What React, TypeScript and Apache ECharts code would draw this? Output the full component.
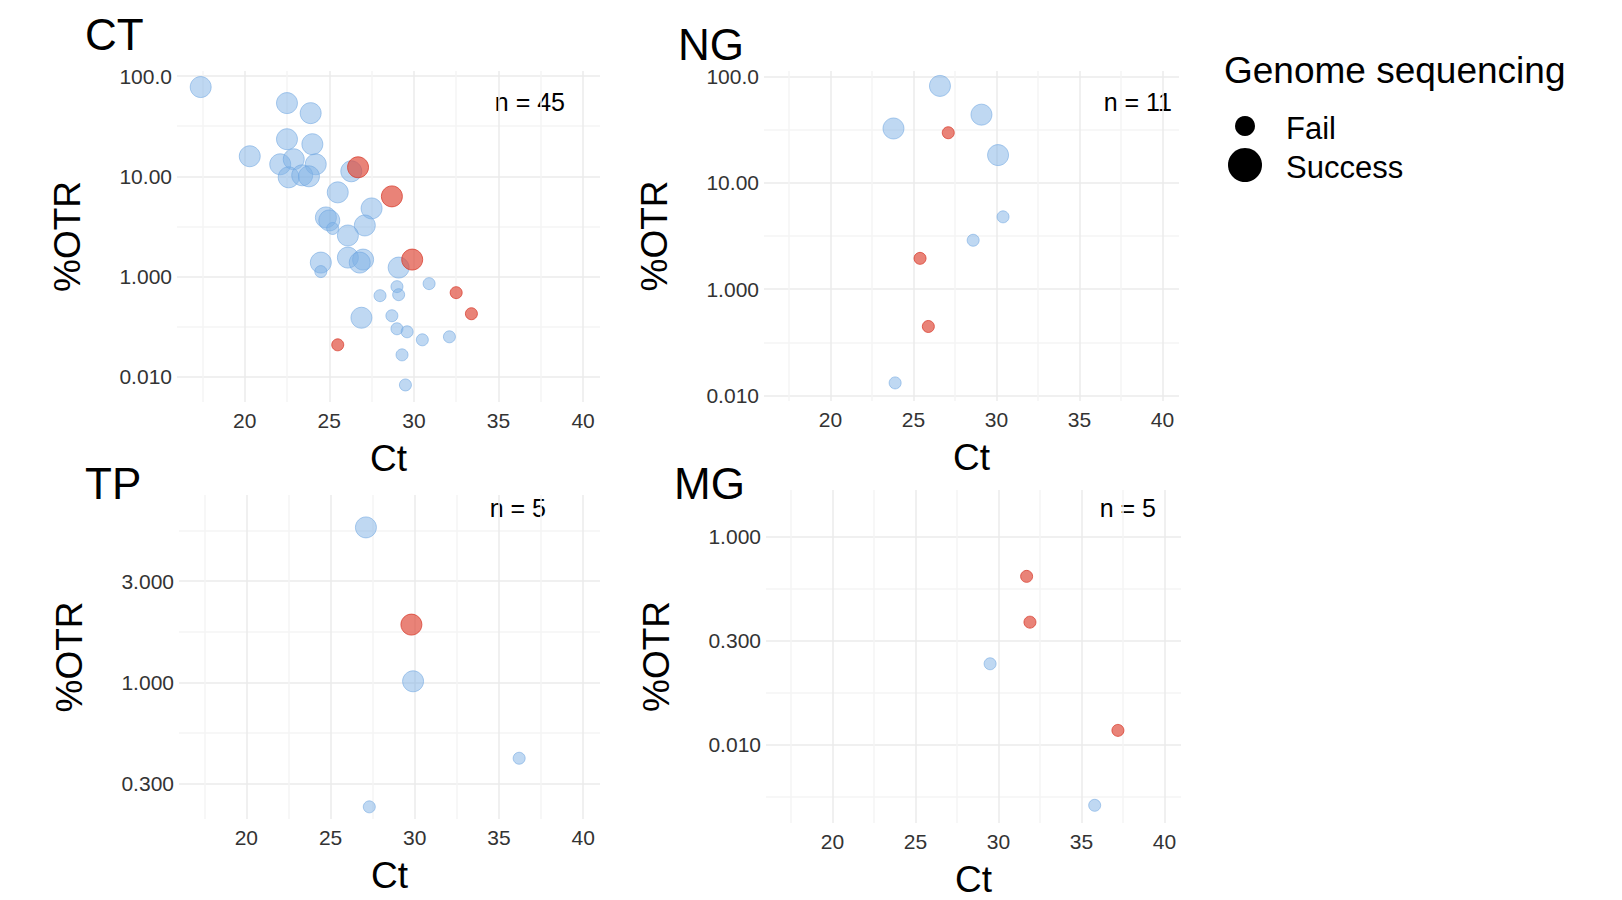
import { useEffect, useRef } from "react";
import * as echarts from "echarts";

// Ct, position on the %OTR axis (tick units), success (1 = large), red flag
const ctX = [17.4, 22.5, 23.9, 22.5, 24.0, 20.3, 22.1, 22.9, 24.2, 22.6, 23.4, 23.8, 26.3, 26.7, 25.5, 28.7, 27.5, 24.8, 25.0, 25.2, 27.1, 26.1, 24.5, 26.1, 27.0, 26.8, 29.1, 29.9, 24.5, 29.0, 30.9, 29.1, 28.0, 32.5, 33.4, 28.7, 26.9, 29.0, 29.6, 30.5, 32.1, 25.5, 29.3, 29.5];
const ctY = [2.89, 2.73, 2.63, 2.37, 2.32, 2.2, 2.12, 2.17, 2.12, 1.99, 2.01, 2.0, 2.05, 2.09, 1.84, 1.8, 1.68, 1.59, 1.56, 1.48, 1.51, 1.41, 1.14, 1.19, 1.17, 1.14, 1.09, 1.17, 1.05, 0.9, 0.93, 0.82, 0.81, 0.84, 0.63, 0.61, 0.59, 0.48, 0.45, 0.37, 0.4, 0.32, 0.22, -0.08];
const ctSuccess = [1, 1, 1, 1, 1, 1, 1, 1, 1, 1, 1, 1, 1, 1, 1, 1, 1, 1, 1, 0, 1, 1, 1, 1, 1, 1, 1, 1, 0, 0, 0, 0, 0, 0, 0, 0, 1, 0, 0, 0, 0, 0, 0, 0];
const ctRed = [0, 0, 0, 0, 0, 0, 0, 0, 0, 0, 0, 0, 0, 1, 0, 1, 0, 0, 0, 0, 0, 0, 0, 0, 0, 0, 0, 1, 0, 0, 0, 0, 0, 1, 1, 0, 0, 0, 0, 0, 0, 1, 0, 0];

const ngX = [26.6, 23.8, 29.1, 27.1, 30.1, 30.4, 28.6, 25.4, 25.9, 23.9];
const ngY = [2.91, 2.51, 2.64, 2.47, 2.26, 1.68, 1.46, 1.29, 0.65, 0.12];
const ngSuccess = [1, 1, 1, 0, 1, 0, 0, 0, 0, 0];
const ngRed = [0, 0, 0, 1, 0, 0, 0, 1, 1, 0];

const tpX = [27.1, 29.8, 29.9, 36.2, 27.3];
const tpY = [2.53, 1.57, 1.01, 0.25, -0.23];
const tpSuccess = [1, 1, 1, 0, 0];
const tpRed = [0, 1, 0, 0, 0];

const mgX = [31.7, 31.9, 29.5, 37.2, 35.8];
const mgY = [1.62, 1.18, 0.78, 0.14, -0.58];
const mgSuccess = [0, 0, 0, 0, 0];
const mgRed = [1, 1, 0, 1, 0];

const xTicks = [20, 25, 30, 35, 40];
const ctLabels = ["0.010", "1.000", "10.00", "100.0"];
const ngLabels = ["0.010", "1.000", "10.00", "100.0"];
const tpLabels = ["0.300", "1.000", "3.000"];
const mgLabels = ["0.010", "0.300", "1.000"];

const FONT = "Liberation Sans";
const MAJOR = "#ebebeb";
const MINOR = "#f4f4f4";
const S = 1622 / 1560;
const px = (v: number) => Math.round(v * S);

function lineColors(min: number, max: number, step: number, majorStep: number) {
  const colors: string[] = [];
  const n = Math.round((max - min) / step) + 2;
  for (let i = 0; i < n; i++) {
    const v = min + i * step;
    const r = v / majorStep;
    if (Math.abs(r - Math.round(r)) < 1e-6) colors.push(MAJOR);
    else if (Math.abs(r * 2 - Math.round(r * 2)) < 1e-6) colors.push(MINOR);
    else colors.push("rgba(0,0,0,0)");
  }
  return colors;
}

function xAxis(gridIndex: number) {
  return {
    gridIndex,
    type: "value",
    min: 16,
    max: 41,
    interval: 0.5,
    name: "Ct",
    nameLocation: "middle",
    nameGap: px(37),
    nameTextStyle: { fontFamily: FONT, fontSize: px(36), color: "#000" },
    axisLine: { show: false },
    axisTick: { show: false },
    axisLabel: {
      interval: 0,
      margin: px(8),
      fontFamily: FONT,
      fontSize: px(20),
      color: "#333",
      formatter: (v: number) => {
        const t = xTicks.find((x) => Math.abs(x - v) < 1e-6);
        return t === undefined ? "" : String(t);
      },
    },
    splitLine: { show: true, lineStyle: { width: 1.5, color: lineColors(16, 41, 0.5, 5) } },
  };
}

function yAxis(gridIndex: number, min: number, max: number, labels: string[]) {
  return {
    gridIndex,
    type: "value",
    min,
    max,
    interval: 0.05,
    name: "%OTR",
    nameLocation: "middle",
    nameRotate: 90,
    nameGap: px(88),
    nameTextStyle: { fontFamily: FONT, fontSize: px(36), color: "#000" },
    axisLine: { show: false },
    axisTick: { show: false },
    axisLabel: {
      interval: 0,
      margin: px(5),
      fontFamily: FONT,
      fontSize: px(20),
      color: "#333",
      formatter: (v: number) => {
        const r = Math.round(v);
        return Math.abs(v - r) < 1e-6 && labels[r] !== undefined ? labels[r] : "";
      },
    },
    splitLine: { show: true, lineStyle: { width: 1.5, color: lineColors(min, max, 0.05, 1) } },
  };
}

function series(i: number, xs: number[], ys: number[], succ: number[], red: number[]) {
  return {
    type: "scatter",
    xAxisIndex: i,
    yAxisIndex: i,
    data: xs.map((x, k) => ({
      value: [x, ys[k]],
      symbolSize: succ[k] ? px(20) : px(12),
      itemStyle: red[k]
        ? { color: "rgba(222,72,56,0.85)", borderColor: "rgba(215,55,40,0.9)", borderWidth: 1 }
        : { color: "rgba(126,176,228,0.62)", borderColor: "rgba(110,165,225,0.7)", borderWidth: 1 },
    })),
  } as any;
}

function txt(x: number, y: number, text: string, size: number, align = "left") {
  return {
    type: "text",
    x: px(x),
    y: px(y),
    style: { text, fontFamily: FONT, fontSize: px(size), fill: "#000", align, verticalAlign: "middle" },
  };
}

export default function App() {
  const ref = useRef<HTMLDivElement>(null);

  useEffect(() => {
    if (!ref.current) return;
    const chart = echarts.init(ref.current, null, { renderer: "svg" });
    chart.setOption({
      animation: false,
      backgroundColor: "#fff",
      grid: [
        { left: px(170), top: px(68), width: px(407), height: px(318) },
        { left: px(735), top: px(68), width: px(399), height: px(317) },
        { left: px(172), top: px(476), width: px(405), height: px(312) },
        { left: px(737), top: px(471), width: px(399), height: px(320) },
      ],
      xAxis: [xAxis(0), xAxis(1), xAxis(2), xAxis(3)],
      yAxis: [
        yAxis(0, -0.25, 3.05, ctLabels),
        yAxis(1, -0.05, 3.05, ngLabels),
        yAxis(2, -0.35, 2.85, tpLabels),
        yAxis(3, -0.75, 2.45, mgLabels),
      ],
      series: [
        series(0, ctX, ctY, ctSuccess, ctRed),
        series(1, ngX, ngY, ngSuccess, ngRed),
        series(2, tpX, tpY, tpSuccess, tpRed),
        series(3, mgX, mgY, mgSuccess, mgRed),
      ],
      graphic: [
        txt(82, 33, "CT", 42),
        txt(652, 42, "NG", 42),
        txt(82, 465, "TP", 42),
        txt(648, 465, "MG", 42),
        txt(543, 98, "n = 45", 24, "right"),
        txt(1127, 98, "n = 11", 24, "right"),
        txt(525, 489, "n = 5", 24, "right"),
        txt(1112, 489, "n = 5", 24, "right"),
        txt(1177, 67, "Genome sequencing", 36),
        { type: "circle", shape: { cx: px(1197), cy: px(121), r: px(10) }, style: { fill: "#000" } },
        { type: "circle", shape: { cx: px(1197), cy: px(159), r: px(16) }, style: { fill: "#000" } },
        txt(1237, 123, "Fail", 30),
        txt(1237, 161, "Success", 30),
      ],
    });
    return () => chart.dispose();
  }, []);

  return (
    <div
      ref={ref}
      style={{ position: "absolute", left: 0, top: 0, width: 1622, height: 900 }}
    />
  );
}
